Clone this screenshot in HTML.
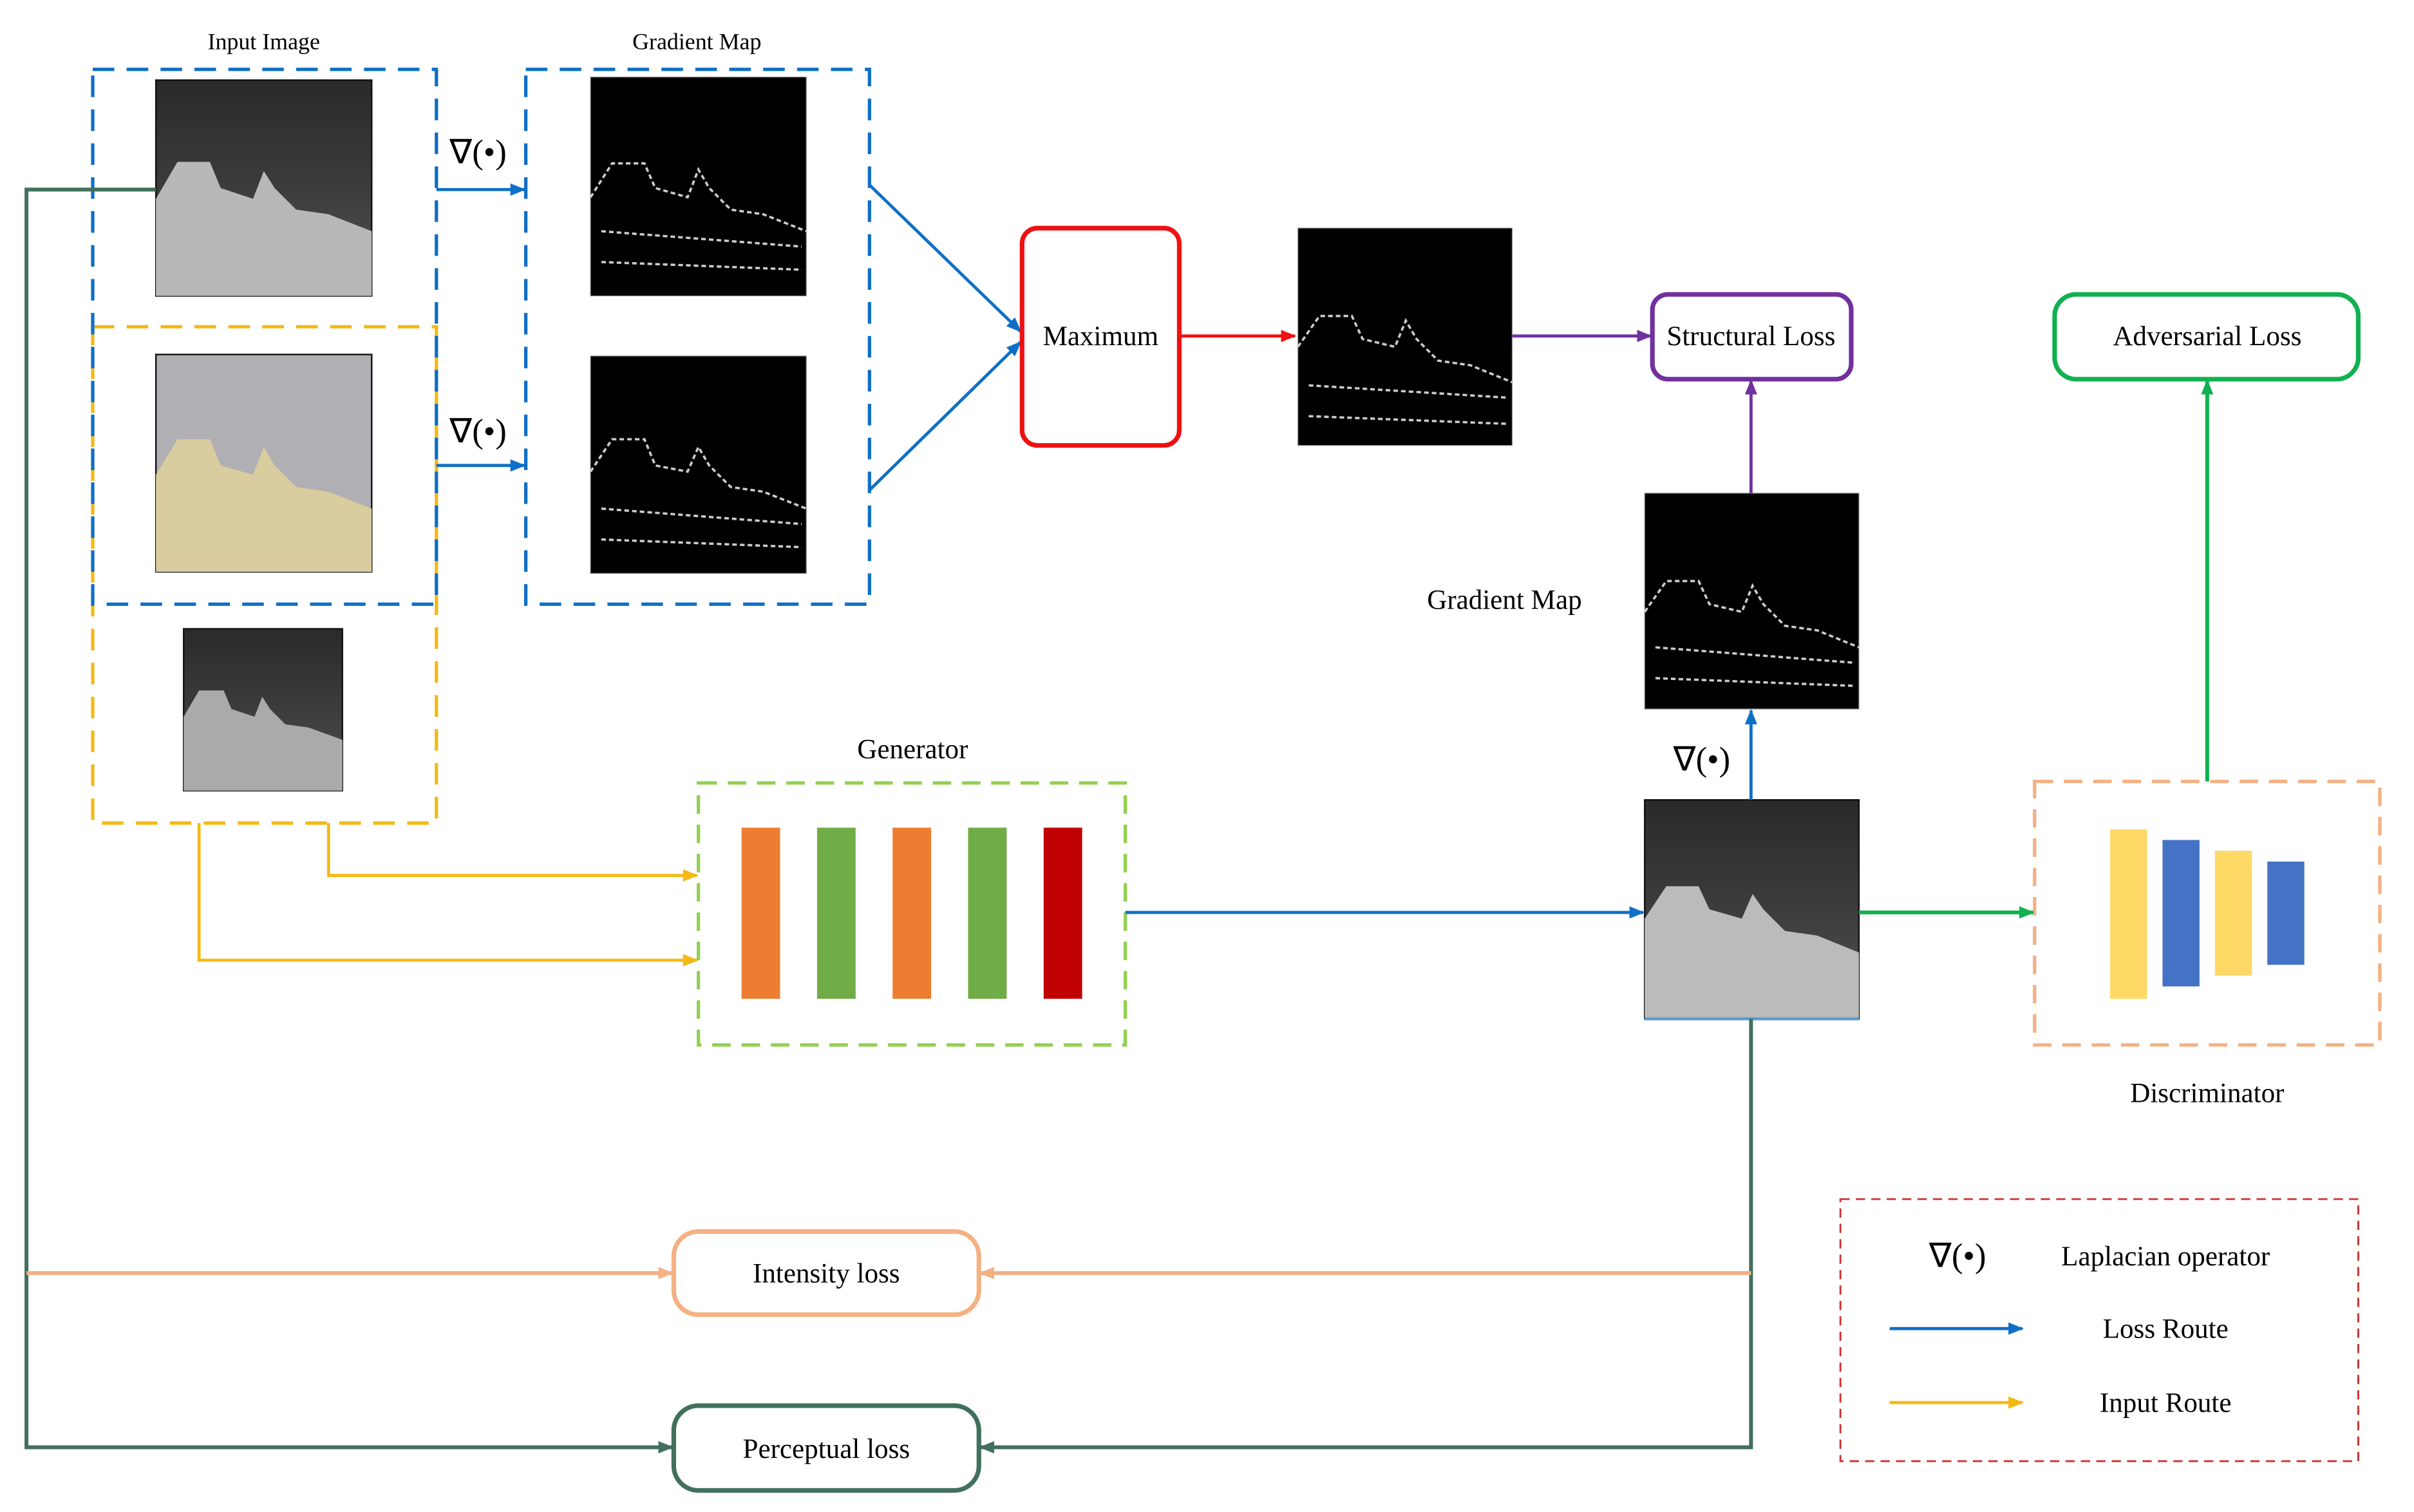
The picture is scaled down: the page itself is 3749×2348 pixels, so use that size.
<!DOCTYPE html>
<html><head><meta charset="utf-8"><style>html,body{margin:0;padding:0;background:#fff}svg{display:block}text{font-family:"Liberation Serif","Times New Roman",serif}</style></head><body>
<svg width="3749" height="2348" viewBox="0 0 1566 981" xmlns="http://www.w3.org/2000/svg">
<defs>
<marker id="aB" markerWidth="10" markerHeight="8" refX="9" refY="4" orient="auto" markerUnits="userSpaceOnUse"><path d="M0,0 L10,4 L0,8 z" fill="#0f6fc6"/></marker>
<marker id="aY" markerWidth="10" markerHeight="8" refX="9" refY="4" orient="auto" markerUnits="userSpaceOnUse"><path d="M0,0 L10,4 L0,8 z" fill="#f5b915"/></marker>
<marker id="aR" markerWidth="10" markerHeight="8" refX="9" refY="4" orient="auto" markerUnits="userSpaceOnUse"><path d="M0,0 L10,4 L0,8 z" fill="#ee1111"/></marker>
<marker id="aP" markerWidth="10" markerHeight="8" refX="9" refY="4" orient="auto" markerUnits="userSpaceOnUse"><path d="M0,0 L10,4 L0,8 z" fill="#7030a0"/></marker>
<marker id="aG" markerWidth="10" markerHeight="8" refX="9" refY="4" orient="auto" markerUnits="userSpaceOnUse"><path d="M0,0 L10,4 L0,8 z" fill="#11b050"/></marker>
<marker id="aO" markerWidth="10" markerHeight="8" refX="9" refY="4" orient="auto" markerUnits="userSpaceOnUse"><path d="M0,0 L10,4 L0,8 z" fill="#f4b183"/></marker>
<marker id="aD" markerWidth="10" markerHeight="8" refX="9" refY="4" orient="auto" markerUnits="userSpaceOnUse"><path d="M0,0 L10,4 L0,8 z" fill="#41705c"/></marker>
<linearGradient id="gD" x1="0" y1="0" x2="0" y2="1"><stop offset="0" stop-color="#2a2a2a"/><stop offset="0.5" stop-color="#3c3c3c"/><stop offset="1" stop-color="#555"/></linearGradient>
</defs>
<rect x="101" y="52" width="140" height="140" fill="url(#gD)" stroke="#111"/>
<path d="M101,129 L115,105 L136,105 L143,122 L164,129 L171,111 L178,122 L192,136 L213,139 L241,150 L241,192 L101,192 z" fill="#b8b8b8"/>
<rect x="101" y="230" width="140" height="141" fill="#b0b0b4" stroke="#111"/>
<path d="M101,308 L115,285 L136,285 L143,302 L164,308 L171,290 L178,302 L192,316 L213,319 L241,330 L241,371 L101,371 z" fill="#d9cc9e"/>
<rect x="119" y="408" width="103" height="105" fill="url(#gD)" stroke="#111"/>
<path d="M119,465 L129,448 L145,448 L150,460 L165,465 L170,452 L175,460 L185,470 L200,472 L222,480 L222,513 L119,513 z" fill="#aaa"/>
<g fill="#000" stroke="#888" stroke-width="0.5">
<rect x="383" y="50" width="140" height="142"/><rect x="383" y="231" width="140" height="141"/>
<rect x="842" y="148" width="139" height="141"/><rect x="1067" y="320" width="139" height="140"/>
</g>
<g fill="none" stroke="#ccc" stroke-width="1.5" stroke-dasharray="3 2">
<path d="M383,128 L397,106 L418,106 L425,122 L446,128 L453,110 L460,122 L474,136 L495,139 L523,150 M390,150 L520,160 M390,170 L520,175"/>
<path d="M383,306 L397,285 L418,285 L425,302 L446,306 L453,290 L460,302 L474,316 L495,319 L523,330 M390,330 L520,340 M390,350 L520,355"/>
<path d="M842,225 L856,205 L877,205 L884,220 L905,225 L912,208 L919,220 L933,234 L954,237 L981,248 M849,250 L978,258 M849,270 L978,275"/>
<path d="M1067,397 L1081,377 L1102,377 L1109,392 L1130,397 L1137,380 L1144,392 L1158,406 L1179,409 L1206,420 M1074,420 L1203,430 M1074,440 L1203,445"/>
</g>
<rect x="1067" y="519" width="139" height="142" fill="url(#gD)" stroke="#111"/>
<path d="M1067,596 L1081,575 L1102,575 L1109,590 L1130,596 L1137,580 L1144,590 L1158,604 L1179,607 L1206,618 L1206,661 L1067,661 z" fill="#bbb"/>
<line x1="1067" y1="661" x2="1206" y2="661" stroke="#5b9bd5" stroke-width="2"/>
<rect x="60" y="212" width="223" height="322" fill="none" stroke="#f5b915" stroke-width="2.2" stroke-dasharray="14 8"/>
<rect x="60" y="45" width="223" height="347" fill="none" stroke="#0f6fc6" stroke-width="2.2" stroke-dasharray="14 8"/>
<rect x="341" y="45" width="223" height="347" fill="none" stroke="#0f6fc6" stroke-width="2.2" stroke-dasharray="14 8"/>
<rect x="453" y="508" width="277" height="170" fill="none" stroke="#92d050" stroke-width="2.2" stroke-dasharray="12 7"/>
<rect x="1320" y="507" width="224" height="171" fill="none" stroke="#f4b183" stroke-width="2.2" stroke-dasharray="12 7"/>
<rect x="1194" y="778" width="336" height="170" fill="none" stroke="#d03030" stroke-width="1.2" stroke-dasharray="6 4"/>
<rect x="481" y="537" width="25" height="111" fill="#ed7d31"/><rect x="530" y="537" width="25" height="111" fill="#70ad47"/>
<rect x="579" y="537" width="25" height="111" fill="#ed7d31"/><rect x="628" y="537" width="25" height="111" fill="#70ad47"/>
<rect x="677" y="537" width="25" height="111" fill="#c00000"/>
<rect x="1369" y="538" width="24" height="110" fill="#ffd966"/><rect x="1403" y="545" width="24" height="95" fill="#4472c4"/>
<rect x="1437" y="552" width="24" height="81" fill="#ffd966"/><rect x="1471" y="559" width="24" height="67" fill="#4472c4"/>
<g fill="none" stroke-width="2">
<path d="M283,123 H340" stroke="#0f6fc6" marker-end="url(#aB)"/>
<path d="M283,302 H340" stroke="#0f6fc6" marker-end="url(#aB)"/>
<path d="M564,120 L662,215" stroke="#0f6fc6" marker-end="url(#aB)"/>
<path d="M564,318 L662,222" stroke="#0f6fc6" marker-end="url(#aB)"/>
<path d="M765,218 H840" stroke="#ee1111" marker-end="url(#aR)"/>
<path d="M981,218 H1071" stroke="#7030a0" marker-end="url(#aP)"/>
<path d="M1136,320 V247" stroke="#7030a0" marker-end="url(#aP)"/>
<path d="M1136,519 V461" stroke="#0f6fc6" marker-end="url(#aB)"/>
<path d="M730,592 H1066" stroke="#0f6fc6" marker-end="url(#aB)"/>
<path d="M1206,592 H1319" stroke="#11b050" stroke-width="2.5" marker-end="url(#aG)"/>
<path d="M1432,507 V247" stroke="#11b050" stroke-width="2.5" marker-end="url(#aG)"/>
<path d="M213,534 V568 H452" stroke="#f5b915" marker-end="url(#aY)"/>
<path d="M129,534 V623 H452" stroke="#f5b915" marker-end="url(#aY)"/>
<path d="M101,123 H17 V939 H436" stroke="#41705c" stroke-width="2.5" marker-end="url(#aD)"/>
<path d="M1136,661 V939 H636" stroke="#41705c" stroke-width="2.5" marker-end="url(#aD)"/>
<path d="M17,826 H436" stroke="#f4b183" stroke-width="2.5" marker-end="url(#aO)"/>
<path d="M1136,826 H636" stroke="#f4b183" stroke-width="2.5" marker-end="url(#aO)"/>
<path d="M1226,862 H1312" stroke="#0f6fc6" marker-end="url(#aB)"/>
<path d="M1226,910 H1312" stroke="#f5b915" marker-end="url(#aY)"/>
</g>
<rect x="663" y="148" width="102" height="141" rx="10" fill="#fff" stroke="#ee1111" stroke-width="3"/>
<rect x="1072" y="191" width="129" height="55" rx="10" fill="#fff" stroke="#7030a0" stroke-width="3"/>
<rect x="1333" y="191" width="197" height="55" rx="14" fill="#fff" stroke="#11b050" stroke-width="3"/>
<rect x="437" y="799" width="198" height="54" rx="16" fill="#fff" stroke="#f4b183" stroke-width="3"/>
<rect x="437" y="912" width="198" height="55" rx="16" fill="#fff" stroke="#41705c" stroke-width="3"/>
<g fill="#000" text-anchor="middle" font-size="18">
<text x="171" y="32" font-size="15">Input Image</text>
<text x="452" y="32" font-size="15">Gradient Map</text>
<text x="310" y="106" font-size="22">∇(•)</text>
<text x="310" y="287" font-size="22">∇(•)</text>
<text x="714" y="224">Maximum</text>
<text x="1136" y="224">Structural Loss</text>
<text x="1432" y="224">Adversarial Loss</text>
<text x="976" y="395">Gradient Map</text>
<text x="1104" y="500" font-size="22">∇(•)</text>
<text x="592" y="492">Generator</text>
<text x="1432" y="715">Discriminator</text>
<text x="536" y="832">Intensity loss</text>
<text x="536" y="946">Perceptual loss</text>
<text x="1270" y="822" font-size="22">∇(•)</text>
<text x="1405" y="821">Laplacian operator</text>
<text x="1405" y="868">Loss Route</text>
<text x="1405" y="916">Input Route</text>
</g>
</svg>
</body></html>
